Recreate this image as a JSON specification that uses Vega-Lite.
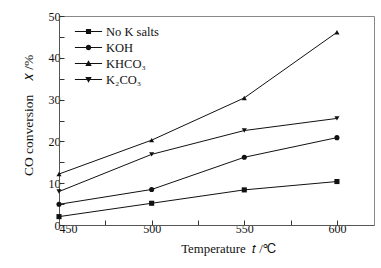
{
  "$schema": "https://vega.github.io/schema/vega-lite/v6.json",
  "width": 315,
  "height": 209,
  "autosize": {"type": "none"},
  "padding": {"left": 59, "top": 16, "right": 7, "bottom": 43},
  "config": {
    "view": {"stroke": "#888", "strokeWidth": 1},
    "font": "Liberation Serif",
    "axis": {
      "labelFont": "Liberation Serif",
      "titleFont": "Liberation Serif",
      "labelFontSize": 12,
      "titleFontSize": 12.8,
      "titleFontWeight": "normal",
      "labelColor": "#111",
      "titleColor": "#111",
      "domainColor": "#555",
      "tickColor": "#333",
      "grid": false
    },
    "legend": {
      "orient": "none",
      "legendX": 20.5,
      "legendY": 6.5,
      "padding": 0,
      "rowPadding": 0,
      "symbolSize": 289,
      "symbolOpacity": 1,
      "symbolFillColor": "#111",
      "symbolStrokeColor": "#111",
      "symbolStrokeWidth": 1,
      "labelFont": "Liberation Serif",
      "labelFontSize": 12.5,
      "labelColor": "#111",
      "labelOffset": 8.5
    }
  },
  "data": {
    "values": [
      {"series": "No K salts", "t": 450, "x": 2.0},
      {"series": "No K salts", "t": 500, "x": 5.2},
      {"series": "No K salts", "t": 550, "x": 8.4},
      {"series": "No K salts", "t": 600, "x": 10.4},
      {"series": "KOH", "t": 450, "x": 4.95},
      {"series": "KOH", "t": 500, "x": 8.5},
      {"series": "KOH", "t": 550, "x": 16.2},
      {"series": "KOH", "t": 600, "x": 20.9},
      {"series": "KHCO₃", "t": 450, "x": 12.2},
      {"series": "KHCO₃", "t": 500, "x": 20.3},
      {"series": "KHCO₃", "t": 550, "x": 30.4},
      {"series": "KHCO₃", "t": 600, "x": 46.1},
      {"series": "K₂CO₃", "t": 450, "x": 8.0},
      {"series": "K₂CO₃", "t": 500, "x": 16.9},
      {"series": "K₂CO₃", "t": 550, "x": 22.6},
      {"series": "K₂CO₃", "t": 600, "x": 25.5}
    ]
  },
  "resolve": {"axis": {"x": "independent", "y": "independent"}, "scale": {"shape": "independent"}},
  "layer": [
    {
      "mark": {"type": "line", "color": "#111", "strokeWidth": 1},
      "encoding": {
        "x": {
          "field": "t", "type": "quantitative",
          "scale": {"domain": [450, 620], "nice": false, "zero": false},
          "axis": {"orient": "bottom", "values": [475, 525, 575], "labels": false, "domain": false, "tickSize": -5, "title": null}
        },
        "y": {
          "field": "x", "type": "quantitative",
          "scale": {"domain": [0, 50], "nice": false},
          "axis": {"orient": "left", "values": [5, 15, 25, 35, 45], "labels": false, "domain": false, "tickSize": -5, "title": null}
        },
        "detail": {"field": "series", "type": "nominal"}
      }
    },
    {
      "mark": {"type": "point", "filled": true, "color": "#111", "opacity": 1},
      "encoding": {
        "x": {
          "field": "t", "type": "quantitative",
          "scale": {"domain": [450, 620], "nice": false, "zero": false},
          "axis": {"orient": "bottom", "values": [450, 500, 550, 600], "tickSize": -5, "labelPadding": 3, "title": "Temperature\u00a0\u00a0𝑡\u00a0/℃", "titleX": 169, "titlePadding": 8}
        },
        "y": {
          "field": "x", "type": "quantitative",
          "scale": {"domain": [0, 50], "nice": false},
          "axis": {"orient": "left", "values": [0, 10, 20, 30, 40, 50], "tickSize": -5, "labelPadding": 4, "title": "CO conversion\u00a0\u00a0\u00a0\u00a0𝑥\u00a0/%", "titleFontSize": 13.5, "titleY": 99, "titlePadding": 13}
        },
        "shape": {
          "field": "series", "type": "nominal",
          "scale": {"domain": ["No K salts", "KOH", "KHCO₃", "K₂CO₃"], "range": ["square", "circle", "triangle-up", "triangle-down"]},
          "legend": null
        },
        "size": {"value": 26}
      }
    },
    {
      "mark": {"type": "point", "filled": true, "color": "#111", "opacity": 0},
      "encoding": {
        "x": {"field": "t", "type": "quantitative", "scale": {"domain": [450, 620], "nice": false, "zero": false}, "axis": null},
        "y": {"field": "x", "type": "quantitative", "scale": {"domain": [0, 50], "nice": false}, "axis": null},
        "shape": {
          "field": "series", "type": "nominal",
          "scale": {
            "domain": ["No K salts", "KOH", "KHCO₃", "K₂CO₃"],
            "range": [
              "M-1.6,-0.06H1.6V0.06H-1.6ZM-0.3,-0.3H0.3V0.3H-0.3Z",
              "M-1.6,-0.06H1.6V0.06H-1.6ZM0.32,0A0.32,0.32,0,1,1,-0.32,0A0.32,0.32,0,1,1,0.32,0Z",
              "M-1.6,-0.06H1.6V0.06H-1.6ZM0,-0.38L0.38,0.3H-0.38Z",
              "M-1.6,-0.06H1.6V0.06H-1.6ZM0,0.38L-0.38,-0.3H0.38Z"
            ]
          },
          "legend": {"title": null}
        }
      }
    }
  ]
}
